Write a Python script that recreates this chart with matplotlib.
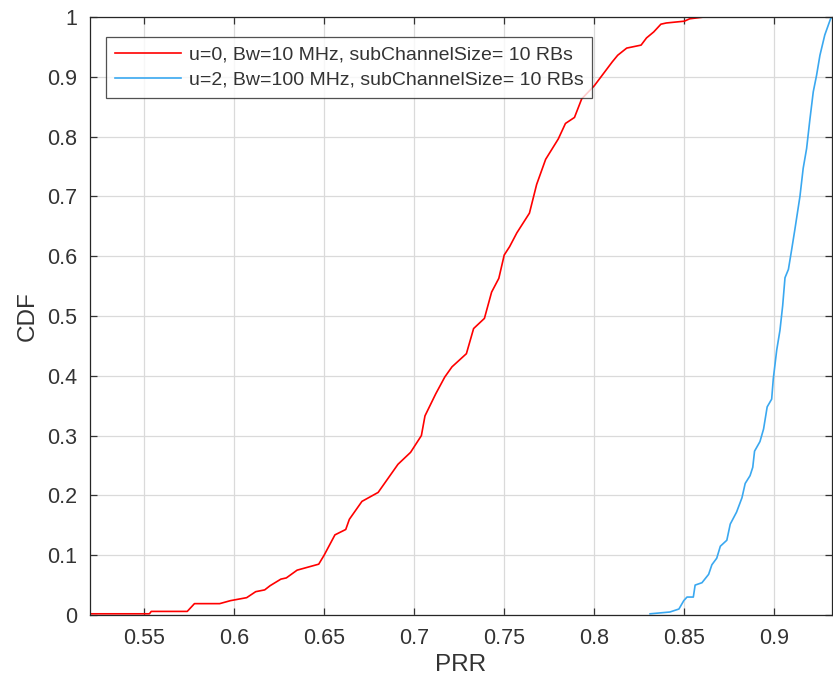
import numpy as np
import matplotlib.pyplot as plt
from matplotlib.ticker import FuncFormatter

plt.rcParams['font.family'] = ['Liberation Sans', 'DejaVu Sans']

prr_u0 = [0.520, 0.553, 0.554, 0.574, 0.578, 0.592, 0.598, 0.607, 0.612, 0.617,
          0.620, 0.626, 0.629, 0.635, 0.647, 0.650, 0.656, 0.662, 0.664, 0.671,
          0.680, 0.691, 0.698, 0.704, 0.706, 0.712, 0.717, 0.721, 0.729, 0.733,
          0.739, 0.743, 0.747, 0.750, 0.753, 0.757, 0.764, 0.768, 0.773, 0.780,
          0.784, 0.789, 0.793, 0.800, 0.805, 0.810, 0.813, 0.818, 0.826, 0.829,
          0.833, 0.837, 0.840, 0.850, 0.853, 0.861]
cdf_u0 = [0.002, 0.002, 0.006, 0.006, 0.019, 0.019, 0.024, 0.029, 0.039, 0.042,
          0.049, 0.060, 0.062, 0.075, 0.085, 0.100, 0.134, 0.143, 0.160, 0.190,
          0.205, 0.252, 0.272, 0.300, 0.333, 0.370, 0.398, 0.415, 0.437, 0.479,
          0.496, 0.540, 0.563, 0.602, 0.616, 0.639, 0.672, 0.720, 0.762, 0.796,
          0.822, 0.832, 0.863, 0.885, 0.905, 0.925, 0.936, 0.948, 0.953, 0.965,
          0.975, 0.988, 0.990, 0.993, 0.997, 1.000]

# u=2 / Bw=100 MHz
prr_u2 = [0.831, 0.842, 0.847, 0.8497, 0.8515, 0.855, 0.856, 0.8598, 0.8635, 0.8653,
          0.868, 0.870, 0.8736, 0.8755, 0.879, 0.882, 0.8838, 0.8865, 0.888, 0.889,
          0.892, 0.894, 0.896, 0.8985, 0.8994, 0.9013, 0.9031, 0.9046, 0.9059, 0.9078,
          0.9096, 0.9114, 0.9142, 0.916, 0.9179, 0.9197, 0.9216, 0.9234, 0.9253, 0.928,
          0.9312, 0.932]
cdf_u2 = [0.002, 0.005, 0.010, 0.024, 0.030, 0.030, 0.050, 0.054, 0.068, 0.084,
          0.095, 0.115, 0.125, 0.152, 0.172, 0.196, 0.220, 0.233, 0.247, 0.274,
          0.290, 0.311, 0.348, 0.361, 0.395, 0.443, 0.476, 0.517, 0.564, 0.578,
          0.611, 0.645, 0.700, 0.747, 0.780, 0.828, 0.875, 0.902, 0.936, 0.970,
          0.997, 1.000]

labels = ['u=0, Bw=10 MHz, subChannelSize= 10 RBs',
          'u=2, Bw=100 MHz, subChannelSize= 10 RBs']
xticks = [0.55, 0.6, 0.65, 0.7, 0.75, 0.8, 0.85, 0.9]
yticks = [0, 0.1, 0.2, 0.3, 0.4, 0.5, 0.6, 0.7, 0.8, 0.9, 1]

txt = '#333333'

fig = plt.figure(figsize=(8.33, 6.82), dpi=100)
ax = fig.add_axes([90/833, 67/682, 742/833, 598/682])

ax.plot(prr_u0, cdf_u0, color='#ff0000', lw=1.2, label=labels[0])
ax.plot(prr_u2, cdf_u2, color='#3aa8f0', lw=1.2, label=labels[1])

ax.set_xlim(0.52, 0.932)
ax.set_ylim(0, 1)
ax.set_xticks(xticks)
ax.set_yticks(yticks)
ax.yaxis.set_major_formatter(FuncFormatter(lambda v, p: '%g' % v))
ax.xaxis.set_major_formatter(FuncFormatter(lambda v, p: '%g' % v))
ax.grid(True, color='#dadada', lw=0.9)
ax.set_axisbelow(True)
ax.tick_params(direction='in', top=True, right=True, length=5, width=0.9,
               labelsize=15.5, colors=txt, pad=9)
for s in ax.spines.values():
    s.set_color('#262626')
    s.set_linewidth(0.9)

ax.set_xlabel('PRR', fontsize=17.5, color=txt, labelpad=4)
ax.set_ylabel('CDF', fontsize=17.5, color=txt, labelpad=6)

leg = ax.legend(loc='upper left', bbox_to_anchor=(106/833, 1 - 37/682),
                bbox_transform=fig.transFigure, fontsize=14, frameon=True,
                fancybox=False, edgecolor='#262626', handlelength=3.4,
                handletextpad=0.4, borderpad=0.45, labelspacing=0.4,
                borderaxespad=0)
leg.get_frame().set_linewidth(0.9)
for t in leg.get_texts():
    t.set_color(txt)

fig.savefig('out.png', dpi=100, facecolor='white')
